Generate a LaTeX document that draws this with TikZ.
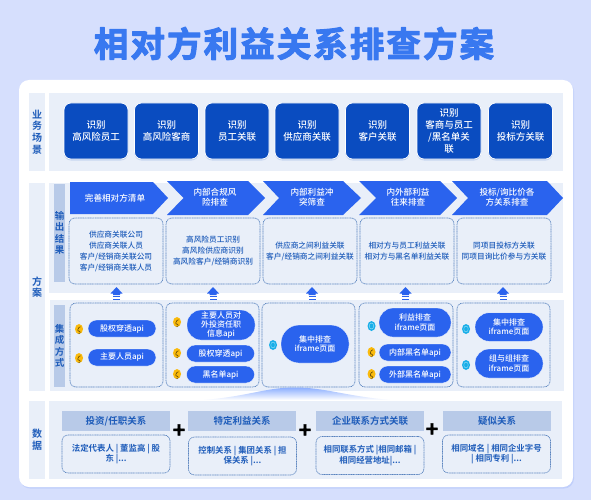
\documentclass[tikz,border=0pt]{standalone}
\usepackage{fontspec}
\setmainfont{Noto Sans CJK SC Medium}[BoldFont={Noto Sans CJK SC Bold}]
\newfontfamily\titlefont{Noto Sans CJK SC Bold}[FakeBold=3,LetterSpace=6]
\newfontfamily\plusfont{Noto Sans CJK SC Bold}[FakeBold=2]
\usetikzlibrary{arrows.meta}
\usetikzlibrary{positioning}
\usetikzlibrary{shadows}
\usetikzlibrary{shapes.geometric}

\begin{document}
\begin{tikzpicture}[x=1pt, y=-1pt, line cap=round, line join=round]
			
			% Colors
			\definecolor{pageA}{RGB}{214,223,253}
			\definecolor{panelA}{RGB}{233,239,249}
			\definecolor{navyA}{RGB}{10,76,192}
			\definecolor{blueA}{RGB}{42,99,238}
			\definecolor{titleA}{RGB}{56,120,240}
			\definecolor{stripA}{RGB}{184,202,232}
			\definecolor{inkA}{RGB}{30,92,186}
			\definecolor{dotA}{RGB}{88,130,190}
			\definecolor{yellowA}{RGB}{250,186,12}
			\definecolor{cyanA}{RGB}{24,174,232}
			
			\tikzset{
				panel/.style={fill=panelA, inner sep=0pt, outer sep=0pt},
				sidelab/.style={panel, text=inkA, align=center, font=\fontsize{10}{11.6}\selectfont\bfseries},
				strip/.style={fill=stripA, inner sep=0pt, minimum width=11pt, text=inkA, align=center, font=\fontsize{9.5}{11.4}\selectfont\bfseries},
				card/.style={rounded corners=7pt, fill=navyA, draw=white, line width=.7pt, text=white, align=center,
					minimum width=64pt, minimum height=56pt, inner sep=0pt, font=\fontsize{9.5}{11.7}\selectfont,
					drop shadow={shadow xshift=0pt, shadow yshift=-1.5pt, opacity=.15, fill=navyA}},
				chev/.style={fill=blueA},
				chevlab/.style={text=white, align=center, inner sep=0pt, font=\fontsize{8.6}{10.3}\selectfont},
				dotbox/.style={rounded corners=6pt, draw=dotA, densely dotted, line width=.7pt, fill=panelA, inner sep=0pt,
					text=inkA, align=center, font=\fontsize{7.7}{11}\selectfont},
				pill/.style={rounded corners=8.5pt, fill=blueA, draw=white, line width=.3pt, text=white, align=center, inner sep=0pt,
					minimum width=68pt, minimum height=17pt, font=\fontsize{8}{9.2}\selectfont},
				headbar/.style={fill=stripA, inner sep=0pt, minimum width=108pt, minimum height=20pt, text=inkA,
					font=\fontsize{9.5}{11}\selectfont\bfseries},
				databox/.style={dotbox, minimum width=108pt, minimum height=38pt, font=\fontsize{8.4}{10.7}\selectfont\bfseries},
				plusmark/.style={inner sep=0pt, text=black, font=\fontsize{21}{21}\plusfont},
				pydot/.style={ellipse, fill=yellowA, inner sep=0pt, minimum width=8pt, minimum height=10pt,
					path picture={\draw[line width=.55pt, draw=black!65!yellowA] (path picture bounding box.center) +(1.4,-2.2) .. controls +(-2.2,-.4) and +(-2.6,1.6) .. +(0,2) .. controls +(2.4,.6) and +(2.2,2.4) .. +(-1.4,4.4);}},
				webdot/.style={ellipse, fill=cyanA, inner sep=0pt, minimum width=8pt, minimum height=10pt,
					path picture={\draw[line width=.4pt, draw=white!55!cyanA] (path picture bounding box.center) ellipse (2.2 and 3);}},
				upArrow/.pic={
					\fill[blueA] (-6,6.5) -- (0,0) -- (6,6.5) -- (3.5,6.5) -- (3.5,8) -- (-3.5,8) -- (-3.5,6.5) -- cycle;
					\fill[blueA] (-3.5,9) rectangle (3.5,10.4);
					\fill[blueA] (-3.5,11.6) rectangle (3.5,13);
				},
			}
			
			\useasboundingbox (0,0) rectangle (591,500);
			\fill[pageA] (0,0) rectangle (591,500);
			
			\node[inner sep=0pt, text=titleA, font=\fontsize{34.5}{36}\titlefont] (title) at (294,43.5) {相对方利益关系排查方案};
			
			% --- White sheet and the grey-blue rows
			\node[rounded corners=10pt, fill=white, minimum width=554pt, minimum height=407pt, inner sep=0pt,
				drop shadow={shadow xshift=1pt, shadow yshift=-1.5pt, opacity=.12, fill=blueA}] (sheet) at (296,283.5) {};
			
			\node[sidelab, minimum width=16pt, minimum height=78pt] (rowScene) at (37,132) {业\\务\\场\\景};
			\node[sidelab, minimum width=16pt, minimum height=208pt] (rowPlan) at (37,287) {方\\案};
			\node[sidelab, minimum width=16pt, minimum height=78pt] (rowData) at (37,440) {数\\据};
			
			\node[panel, minimum width=514pt, minimum height=78pt] (panelScene) at (306,132) {};
			\node[panel, minimum width=514pt, minimum height=110pt] (panelOut) at (306,238) {};
			\node[panel, minimum width=514pt, minimum height=91pt] (panelWay) at (307,345.5) {};
			\node[panel, minimum width=513pt, minimum height=78pt] (panelData) at (305.5,440) {};
			
			% --- Top: scenes
			\node[card] (scene1) at (96,131) {识别\\高风险员工};
			\node[card] (scene2) at (166.5,131) {识别\\高风险客商};
			\node[card] (scene3) at (237,131) {识别\\员工关联};
			\node[card] (scene4) at (307,131) {识别\\供应商关联};
			\node[card] (scene5) at (377.5,131) {识别\\客户关联};
			\node[card] (scene6) at (449,131) {识别\\客商与员工\\/黑名单关\\联};
			\node[card] (scene7) at (520.5,131) {识别\\投标方关联};
			
			% --- Middle: output results
			\node[strip, minimum height=98pt] (stripOut) at (59.5,233) {输\\出\\结\\果};
			
			\fill[chev] (70,182) -- (153,182) -- (168,198) -- (153,214) -- (70,214) -- cycle;
			\fill[chev] (167,181) -- (248,181) -- (265,198) -- (248,215) -- (167,215) -- (183.5,198) -- cycle;
			\fill[chev] (263,181) -- (343,181) -- (361,198) -- (343,215) -- (263,215) -- (279,198) -- cycle;
			\fill[chev] (359,181) -- (440,181) -- (457,198) -- (440,215) -- (359,215) -- (376,198) -- cycle;
			\fill[chev] (452,181) -- (547,181) -- (563,198) -- (547,215) -- (452,215) -- (468,198) -- cycle;
			\node[chevlab] (stage1) at (115,198) {完善相对方清单};
			\node[chevlab] (stage2) at (215,197.5) {内部合规风\\险排查};
			\node[chevlab] (stage3) at (312,197.5) {内部利益冲\\突筛查};
			\node[chevlab] (stage4) at (408,197.5) {内外部利益\\往来排查};
			\node[chevlab] (stage5) at (507,197.5) {投标/询比价各\\方关系排查};
			
			\node[dotbox, minimum width=94pt, minimum height=66pt] (out1) at (116,251) {供应商关联公司\\供应商关联人员\\客户/经销商关联公司\\客户/经销商关联人员};
			\node[dotbox, minimum width=94pt, minimum height=66pt] (out2) at (213,251) {高风险员工识别\\高风险供应商识别\\高风险客户/经销商识别};
			\node[dotbox, minimum width=94pt, minimum height=66pt] (out3) at (310,251) {供应商之间利益关联\\客户/经销商之间利益关联};
			\node[dotbox, minimum width=94pt, minimum height=66pt] (out4) at (407,251) {相对方与员工利益关联\\相对方与黑名单利益关联};
			\node[dotbox, minimum width=94pt, minimum height=66pt] (out5) at (504,251) {同项目投标方关联\\同项目询比价参与方关联};
			
			\pic at (116.5,287) {upArrow};
			\pic at (213,287) {upArrow};
			\pic at (312,287) {upArrow};
			\pic at (405.5,287) {upArrow};
			\pic at (503,287) {upArrow};
			
			% --- Middle: integration
			\node[strip, minimum height=82pt] (stripWay) at (59.5,346) {集\\成\\方\\式};
			
			\node[dotbox, minimum width=93pt, minimum height=84pt] (way1) at (116.5,345) {};
			\node[dotbox, minimum width=93pt, minimum height=84pt] (way2) at (212.5,345) {};
			\node[dotbox, minimum width=93pt, minimum height=84pt] (way3) at (308.5,345) {};
			\node[dotbox, minimum width=94pt, minimum height=84pt] (way4) at (406,345) {};
			\node[dotbox, minimum width=93pt, minimum height=84pt] (way5) at (503.5,345) {};
			
			\node[pill] (api1) at (122,328.5) {股权穿透api};
			\node[pill] (api2) at (122,357.5) {主要人员api};
			\node[pydot] (py1) at (79,329) {};
			\node[pydot] (py2) at (79,358) {};
			
			\node[pill, minimum height=30pt, rounded corners=14pt] (api3) at (221,325) {主要人员对\\外投资任职\\信息api};
			\node[pill] (api4) at (220.5,353.5) {股权穿透api};
			\node[pill] (api5) at (220.5,374.5) {黑名单api};
			\node[pydot] (py3) at (177,322) {};
			\node[pydot] (py4) at (177,353) {};
			\node[pydot] (py5) at (177,374) {};
			
			\node[pill, minimum height=38pt, rounded corners=18pt] (page1) at (315,344) {集中排查\\iframe页面};
			\node[webdot] (web1) at (273,345) {};
			
			\node[pill, minimum width=72pt, minimum height=29pt, rounded corners=14pt] (page2) at (415,322.5) {利益排查\\iframe页面};
			\node[pill, minimum width=72pt] (api6) at (415,352.5) {内部黑名单api};
			\node[pill, minimum width=72pt] (api7) at (415,374.5) {外部黑名单api};
			\node[webdot] (web2) at (371.5,326) {};
			\node[pydot] (py6) at (371.5,352) {};
			\node[pydot] (py7) at (371.5,374) {};
			
			\node[pill, minimum height=28.5pt, rounded corners=14pt] (page3) at (509,327) {集中排查\\iframe页面};
			\node[pill, minimum height=29pt, rounded corners=14pt] (page4) at (509,363.5) {组与组排查\\iframe页面};
			\node[webdot] (web3) at (466,329) {};
			\node[webdot] (web4) at (466,365) {};
			
			% --- Funnel between integration and data
			\shade[top color=blue!70!cyan!45!white, bottom color=white, draw=none] (204,400) .. controls (250,396) and (265,387.5) .. (295,387.5) .. controls (325,387.5) and (345,396) .. (390,400) -- cycle;
			
			% --- Bottom: data
			\node[headbar] (head1) at (116,421) {投资/任职关系};
			\node[headbar] (head2) at (242,421) {特定利益关系};
			\node[headbar] (head3) at (370,421) {企业联系方式关联};
			\node[headbar] (head4) at (497,420.5) {疑似关系};
			
			\node[databox] (data1) at (116,454) {法定代表人 | 董监高 | 股\\东 |...};
			\node[databox] (data2) at (242.5,456) {控制关系 | 集团关系 | 担\\保关系 |...};
			\node[databox] (data3) at (370,455.5) {相同联系方式 |相同邮箱 |\\相同经营地址|...};
			\node[databox] (data4) at (496.5,454) {相同域名 | 相同企业字号\\| 相同专利 |...};
			
			\node[plusmark] (plus1) at (179,431) {+};
			\node[plusmark] (plus2) at (305,431) {+};
			\node[plusmark] (plus3) at (432,430) {+};
			
		\end{tikzpicture}
\end{document}
